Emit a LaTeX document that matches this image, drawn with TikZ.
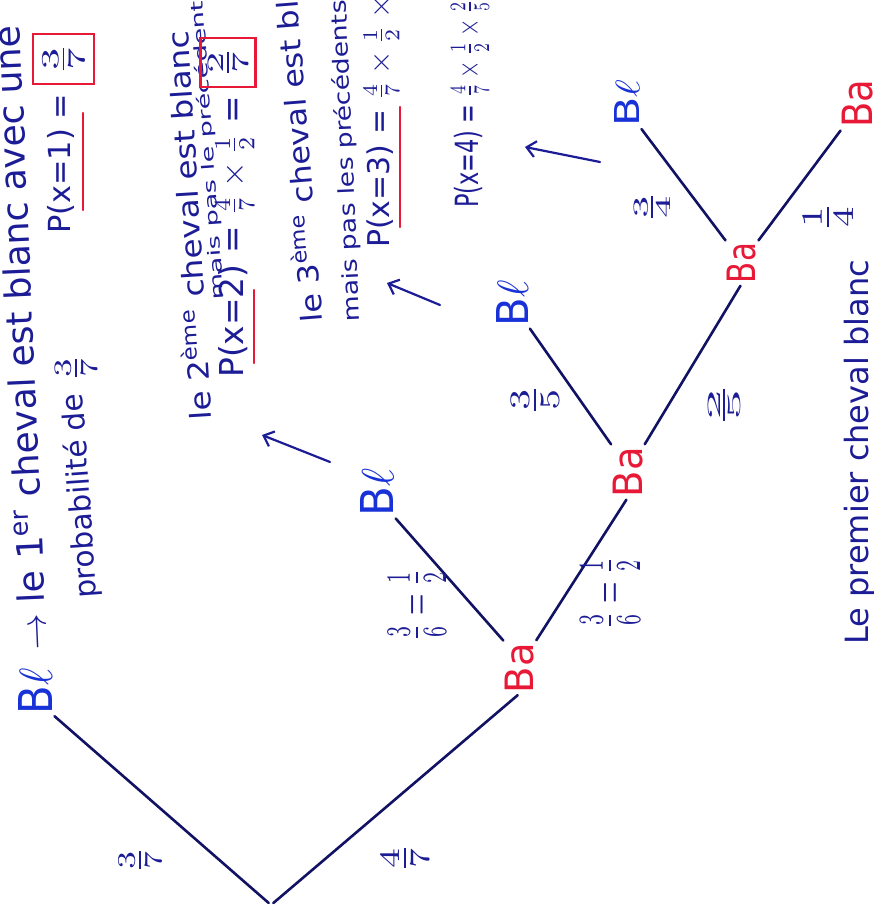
\documentclass[tikz,border=0pt]{standalone}
\usepackage{fontspec}
\setmainfont{DejaVu Sans}
\usepackage{graphicx}
\usetikzlibrary{arrows.meta}
\definecolor{ink}{RGB}{28,28,150}
\definecolor{lineink}{RGB}{18,18,100}
\definecolor{blueink}{RGB}{25,50,215}
\definecolor{redink}{RGB}{232,25,55}
\newcommand\hw[2]{\resizebox{#1}{!}{#2}}
\newcommand\hwb[3]{\resizebox*{#1}{#2}{#3}}
\newcommand\Bl{B$\ell$}
\begin{document}
\begin{tikzpicture}[x=1pt,y=-1pt,
  every node/.style={inner sep=0pt},
  txt/.style={text=ink, anchor=base west},
  blnode/.style={rotate=90, text=blueink},
  banode/.style={rotate=90, text=redink},
  fraclbl/.style={rotate=90, text=ink},
  branch/.style={draw=lineink, line width=2.6pt, line cap=round, shorten <=3pt, shorten >=3pt},
  redmark/.style={draw=redink, line width=2.4pt, line cap=round},
  redbox/.style={draw=redink, line width=2.4pt, text=ink},
  ptr/.style={draw=ink, line width=2.2pt, line cap=round, -{Straight Barb[length=9pt,width=16pt]}}]
\useasboundingbox (0,0) rectangle (873,920);
\clip (0,0) rectangle (873,920);
\fill[white] (0,0) rectangle (873,920);

% ---- tree ----
\coordinate (root) at (271,905);
\node[blnode] (bl1) at (35,691) {\hwb{46pt}{34pt}{\Bl}};
\node[banode] (ba1) at (520,668) {\hwb{50pt}{29pt}{Ba}};
\node[blnode] (bl2) at (377,492) {\hwb{48pt}{33pt}{\Bl}};
\node[banode] (ba2) at (628,472) {\hwb{50pt}{30pt}{Ba}};
\node[blnode] (bl3) at (512,303) {\hwb{46pt}{32pt}{\Bl}};
\node[banode] (ba3) at (742,263) {\hwb{40pt}{29pt}{Ba}};
\node[blnode] (bl4) at (627,103) {\hwb{47pt}{25pt}{\Bl}};
\node[banode] (ba4) at (858,104) {\hwb{48pt}{31pt}{Ba}};

\draw[branch] (root) -- (bl1.south west);
\draw[branch] (root) -- (ba1.west);
\draw[branch] (ba1.north east) -- (bl2.south west);
\draw[branch] (ba1.south east) -- (ba2.west);
\draw[branch] (ba2.north east) -- (bl3.south west);
\draw[branch] (ba2.south east) -- (ba3.west);
\draw[branch] (ba3.north east) -- (bl4.south west);
\draw[branch] (ba3.south east) -- (ba4.north west);

% ---- branch probabilities ----
\node[fraclbl] (p37) at (140,860) {\hwb{29pt}{43pt}{$\frac{3}{7}$}};
\node[fraclbl] (p47) at (405,858) {\hwb{32pt}{48pt}{$\frac{4}{7}$}};
\node[fraclbl] (pl2) at (417,605) {\hwb{72pt}{58pt}{$\frac{3}{6}=\frac{1}{2}$}};
\node[fraclbl] (pr2) at (610,593) {\hwb{72pt}{60pt}{$\frac{3}{6}=\frac{1}{2}$}};
\node[fraclbl] (p35) at (535,400) {\hwb{34pt}{48pt}{$\frac{3}{5}$}};
\node[fraclbl] (p25) at (724,405) {\hwb{50pt}{32pt}{$\frac{2}{5}$}};
\node[fraclbl] (p34) at (652,207) {\hwb{36pt}{36pt}{$\frac{3}{4}$}};
\node[fraclbl] (p14) at (828,217) {\hwb{33pt}{50pt}{$\frac{1}{4}$}};

% ---- notes ----
\node[txt, rotate=92.5] (t1) at (47,650) {\hw{625pt}{$\rightarrow$ le 1\textsuperscript{er} cheval est blanc avec une}};
\node[txt, rotate=94] (t2) at (97,598) {\hw{205pt}{probabilité de}};
\node[fraclbl] (t2f) at (76,368) {\hwb{30pt}{42pt}{$\frac{3}{7}$}};
\node[txt, rotate=90] (t3) at (70,234) {\hw{140pt}{P(x=1) =}};
\node[redbox, minimum width=61pt, minimum height=50pt] (box1) at (63.5,59) {\rotatebox{90}{\hwb{36pt}{42pt}{$\frac{3}{7}$}}};
\coordinate (u1a) at (83,113); \coordinate (u1b) at (83,210);
\draw[redmark] (u1a) -- (u1b);

\node[txt, rotate=93.5] (t4) at (212,420) {\hwb{390pt}{27pt}{le 2\textsuperscript{ème} cheval est blanc}};
\node[txt, rotate=94] (t5) at (224,300) {\hwb{300pt}{17pt}{mais pas le précédent}};
\node[txt, rotate=90] (t6) at (243,378) {\hw{282pt}{P(x=2) = $\frac{4}{7}\times\frac{1}{2}$ =}};
\node[redbox, minimum width=55pt, minimum height=49pt] (box2) at (228,62.5) {\rotatebox{90}{\hwb{34pt}{40pt}{$\frac{2}{7}$}}};
\coordinate (u2a) at (254,290); \coordinate (u2b) at (254,363);
\draw[redmark] (u2a) -- (u2b);
\coordinate (a1s) at (330,462); \coordinate (a1e) at (262,435);
\draw[ptr] (a1s) -- (a1e);

\node[txt, rotate=94.5] (t7) at (323,322) {\hwb{380pt}{27pt}{le 3\textsuperscript{ème} cheval est blanc}};
\node[txt, rotate=92.5] (t8) at (360,322) {\hwb{322pt}{22pt}{mais pas les précédents}};
\node[txt, rotate=90] (t9) at (389,248) {\hw{278pt}{P(x=3) = $\frac{4}{7}\times\frac{1}{2}\times\frac{3}{5}$}};
\coordinate (u3a) at (400,107); \coordinate (u3b) at (400,227);
\draw[redmark] (u3a) -- (u3b);
\coordinate (a2s) at (440,305); \coordinate (a2e) at (387,283);
\draw[ptr] (a2s) -- (a2e);

\node[txt, rotate=90] (t10) at (478,208) {\hwb{250pt}{38pt}{P(x=4) = $\frac{4}{7}\times\frac{1}{2}\times\frac{2}{5}\times\frac{3}{4}$}};
\coordinate (a3s) at (600,162); \coordinate (a3e) at (525,147);
\draw[ptr] (a3s) -- (a3e);

\node[txt, rotate=90] (t11) at (868,645) {\hw{385pt}{Le premier cheval blanc}};
\end{tikzpicture}
\end{document}
